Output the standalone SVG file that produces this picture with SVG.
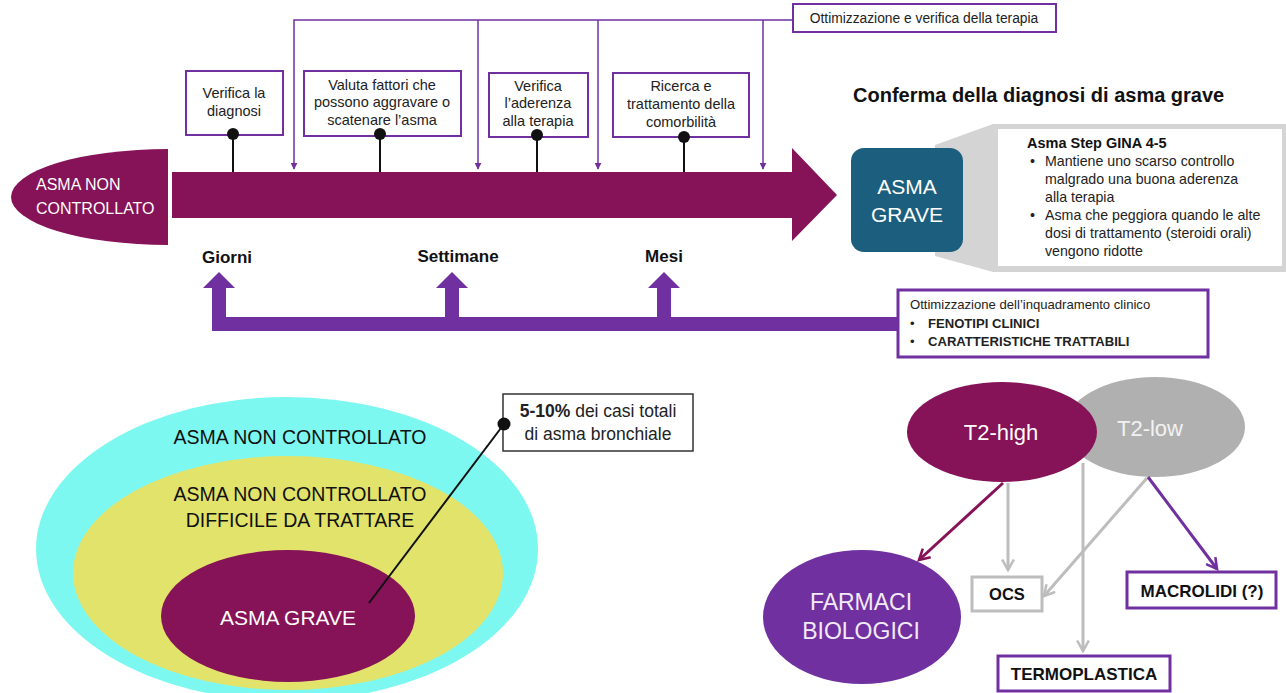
<svg xmlns="http://www.w3.org/2000/svg" width="1286" height="693" viewBox="0 0 1286 693" fill="#222">
<style>
text{font-family:"Liberation Sans",Arial,sans-serif}
.bx{fill:#fff;stroke:#7030a0;stroke-width:2}
.bx3{fill:#fff;stroke:#7030a0;stroke-width:3}
.t13{font-size:14.5px;text-anchor:middle}
.wt{fill:#fff}
.lbl{font-size:17px;font-weight:bold;text-anchor:middle;fill:#111}
.pin{stroke:#111;stroke-width:2}
.br{fill:none;stroke:#7030a0;stroke-width:1.5}
.bold{font-weight:bold}
</style>
<defs>
<marker id="tri" viewBox="0 0 10 10" refX="9" refY="5" markerWidth="7" markerHeight="7" markerUnits="userSpaceOnUse" orient="auto"><path d="M0,0 L10,5 L0,10 Z" fill="#7030a0"/></marker>
<marker id="vM" viewBox="0 0 12 12" refX="10" refY="6" markerWidth="14" markerHeight="14" markerUnits="userSpaceOnUse" orient="auto"><path d="M1,1 L10,6 L1,11" fill="none" stroke="#861257" stroke-width="2.2"/></marker>
<marker id="vG" viewBox="0 0 12 12" refX="10" refY="6" markerWidth="14" markerHeight="14" markerUnits="userSpaceOnUse" orient="auto"><path d="M1,1 L10,6 L1,11" fill="none" stroke="#bdbdbd" stroke-width="2.2"/></marker>
<marker id="vP" viewBox="0 0 12 12" refX="10" refY="6" markerWidth="14" markerHeight="14" markerUnits="userSpaceOnUse" orient="auto"><path d="M1,1 L10,6 L1,11" fill="none" stroke="#7030a0" stroke-width="2.2"/></marker>
</defs>
<rect width="1286" height="693" fill="#fff"/>

<g id="asma-non-controllato-start">
<path d="M168,149 A157,48 0 0 0 168,245 Z" fill="#861257"/>
<text x="36" y="190" font-size="16" class="wt">ASMA NON</text>
<text x="36" y="214" font-size="16" class="wt">CONTROLLATO</text>
</g>
<g id="timeline-arrow">
<polygon points="172,172 792,172 792,148 837,195 792,241 792,218 172,218" fill="#861257"/>
</g>

<g id="ottimizzazione-terapia">
<rect class="bx" x="793" y="4" width="263" height="28"/>
<text x="924" y="23" text-anchor="middle" font-size="13.8">Ottimizzazione e verifica della terapia</text>
</g>
<g id="verifica-diagnosi">
<rect class="bx" x="186" y="71" width="97" height="64"/>
<text class="t13" x="234" y="98">Verifica la</text>
<text class="t13" x="234" y="116">diagnosi</text>
</g>
<g id="valuta-fattori">
<rect class="bx" x="304" y="71" width="157" height="65"/>
<text class="t13" x="382" y="90">Valuta fattori che</text>
<text class="t13" x="382" y="107">possono aggravare o</text>
<text class="t13" x="382" y="125">scatenare l’asma</text>
</g>
<g id="verifica-aderenza">
<rect class="bx" x="489" y="73" width="99" height="64"/>
<text class="t13" x="538" y="91">Verifica</text>
<text class="t13" x="538" y="108">l’aderenza</text>
<text class="t13" x="538" y="126">alla terapia</text>
</g>
<g id="ricerca-comorbilita">
<rect class="bx" x="613" y="73" width="136" height="64"/>
<text class="t13" x="681" y="91">Ricerca e</text>
<text class="t13" x="681" y="109">trattamento della</text>
<text class="t13" x="681" y="127">comorbilità</text>
</g>

<g id="labels-tempo">
<text class="lbl" x="227" y="263">Giorni</text>
<text class="lbl" x="458" y="262">Settimane</text>
<text class="lbl" x="664" y="262">Mesi</text>
</g>

<g id="conferma-diagnosi">
<text x="853" y="102" font-size="20" font-weight="bold" fill="#111">Conferma della diagnosi di asma grave</text>
</g>
<g id="callout-gina">
<polygon points="935,145 993,124 1286,124 1286,272 993,272 935,256" fill="#d4d4d4"/>
<rect x="998" y="129" width="284" height="137" fill="#fff"/>
<text x="1027" y="148" font-size="14.5" font-weight="bold" fill="#111">Asma Step GINA 4-5</text>
<g font-size="14.2">
<text x="1030" y="166">•</text><text x="1045" y="166">Mantiene uno scarso controllo</text>
<text x="1045" y="184">malgrado una buona aderenza</text>
<text x="1045" y="202">alla terapia</text>
<text x="1030" y="220">•</text><text x="1045" y="220">Asma che peggiora quando le alte</text>
<text x="1045" y="238">dosi di trattamento (steroidi orali)</text>
<text x="1045" y="256">vengono ridotte</text>
</g>
</g>
<g id="asma-grave-box">
<rect x="851" y="148" width="112" height="104" rx="13" fill="#1b5e7e"/>
<text x="907" y="194" font-size="21" text-anchor="middle" class="wt">ASMA</text>
<text x="907" y="222" font-size="21" text-anchor="middle" class="wt">GRAVE</text>
</g>

<g id="inquadramento-clinico">
<rect class="bx3" x="898" y="290" width="310" height="67"/>
<text x="910" y="309" font-size="13.1">Ottimizzazione dell’inquadramento clinico</text>
<text x="910" y="328" font-size="13.1">•</text><text x="928" y="328" font-size="13.1" class="bold">FENOTIPI CLINICI</text>
<text x="910" y="346" font-size="13.1">•</text><text x="928" y="346" font-size="13.1" class="bold">CARATTERISTICHE TRATTABILI</text>
</g>

<g id="ellisse-non-controllato">
<ellipse cx="287" cy="549" rx="251" ry="152" fill="#7df8f1"/>
<text x="300" y="444" font-size="19.5" text-anchor="middle" fill="#111">ASMA NON CONTROLLATO</text>
</g>
<g id="ellisse-difficile">
<ellipse cx="288" cy="573" rx="215" ry="117" fill="#e2e36a"/>
<text x="300" y="501" font-size="19.5" text-anchor="middle" fill="#111">ASMA NON CONTROLLATO</text>
<text x="300" y="527" font-size="19.5" text-anchor="middle" fill="#111">DIFFICILE DA TRATTARE</text>
</g>
<g id="ellisse-grave">
<ellipse cx="288" cy="616" rx="127" ry="66" fill="#861257"/>
<text x="288" y="625" font-size="21" text-anchor="middle" class="wt">ASMA GRAVE</text>
</g>
<g id="percentuale">
<rect x="503" y="394" width="190" height="57" fill="#fff" stroke="#333" stroke-width="1.5"/>
<text x="598" y="417" font-size="17.5" text-anchor="middle"><tspan font-weight="bold">5-10%</tspan> dei casi totali</text>
<text x="598" y="440" font-size="17.5" text-anchor="middle">di asma bronchiale</text>
</g>

<g id="t2-low">
<ellipse cx="1155" cy="427" rx="90" ry="50" fill="#b0b0b0"/>
<text x="1150" y="436" font-size="22" text-anchor="middle" fill="#f2f2f2">T2-low</text>
</g>
<g id="t2-high">
<ellipse cx="1002" cy="432" rx="95" ry="50" fill="#861257"/>
<text x="1001" y="440" font-size="22" text-anchor="middle" class="wt">T2-high</text>
</g>
<g id="farmaci-biologici">
<ellipse cx="862" cy="617" rx="99" ry="67" fill="#7030a0"/>
<text x="861" y="610" font-size="23" text-anchor="middle" fill="#f3eaf8">FARMACI</text>
<text x="861" y="639" font-size="23" text-anchor="middle" fill="#f3eaf8">BIOLOGICI</text>
</g>
<g id="ocs">
<rect x="972" y="577" width="70" height="34" fill="#fff" stroke="#bdbdbd" stroke-width="3"/>
<text x="1007" y="600" font-size="16.5" font-weight="bold" text-anchor="middle" fill="#111">OCS</text>
</g>
<g id="macrolidi">
<rect x="1127" y="572" width="149" height="36" fill="#fff" stroke="#7030a0" stroke-width="3"/>
<text x="1202" y="597" font-size="17" font-weight="bold" text-anchor="middle" fill="#111">MACROLIDI (?)</text>
</g>
<g id="termoplastica">
<rect x="998" y="656" width="172" height="35" fill="#fff" stroke="#7030a0" stroke-width="3"/>
<text x="1084" y="680" font-size="17" font-weight="bold" text-anchor="middle" fill="#111">TERMOPLASTICA</text>
</g>

<g id="connectors">
<line class="pin" x1="233" y1="134" x2="233" y2="172"/>
<line class="pin" x1="380" y1="134" x2="380" y2="172"/>
<line class="pin" x1="537" y1="135" x2="537" y2="172"/>
<line class="pin" x1="684" y1="137" x2="684" y2="172"/>
<circle cx="233" cy="134" r="6" fill="#111"/>
<circle cx="380" cy="134" r="6" fill="#111"/>
<circle cx="537" cy="135" r="6" fill="#111"/>
<circle cx="684" cy="137" r="6" fill="#111"/>
<polyline class="br" points="793,20 294,20 294,169" marker-end="url(#tri)"/>
<line class="br" x1="478" y1="20" x2="478" y2="169" marker-end="url(#tri)"/>
<line class="br" x1="598" y1="20" x2="598" y2="169" marker-end="url(#tri)"/>
<line class="br" x1="763" y1="20" x2="763" y2="169" marker-end="url(#tri)"/>
<polygon fill="#7030a0" points="212,331 212,288 203,288 219,272 235,288 226,288 226,317 445,317 445,288 436,288 452,272 468,288 459,288 459,317 657,317 657,288 648,288 664,272 680,288 671,288 671,317 897,317 897,331"/>
<line x1="504" y1="424" x2="369" y2="603" stroke="#111" stroke-width="2"/>
<circle cx="504" cy="424" r="6.5" fill="#111"/>
<line x1="1003" y1="483" x2="919" y2="560" stroke="#861257" stroke-width="3" marker-end="url(#vM)"/>
<line x1="1008" y1="483" x2="1008" y2="570" stroke="#bdbdbd" stroke-width="3" marker-end="url(#vG)"/>
<line x1="1147" y1="478" x2="1044" y2="596" stroke="#bdbdbd" stroke-width="3" marker-end="url(#vG)"/>
<line x1="1083" y1="463" x2="1083" y2="651" stroke="#bdbdbd" stroke-width="3" marker-end="url(#vG)"/>
<line x1="1148" y1="477" x2="1217" y2="569" stroke="#7030a0" stroke-width="3" marker-end="url(#vP)"/>
</g>
</svg>
